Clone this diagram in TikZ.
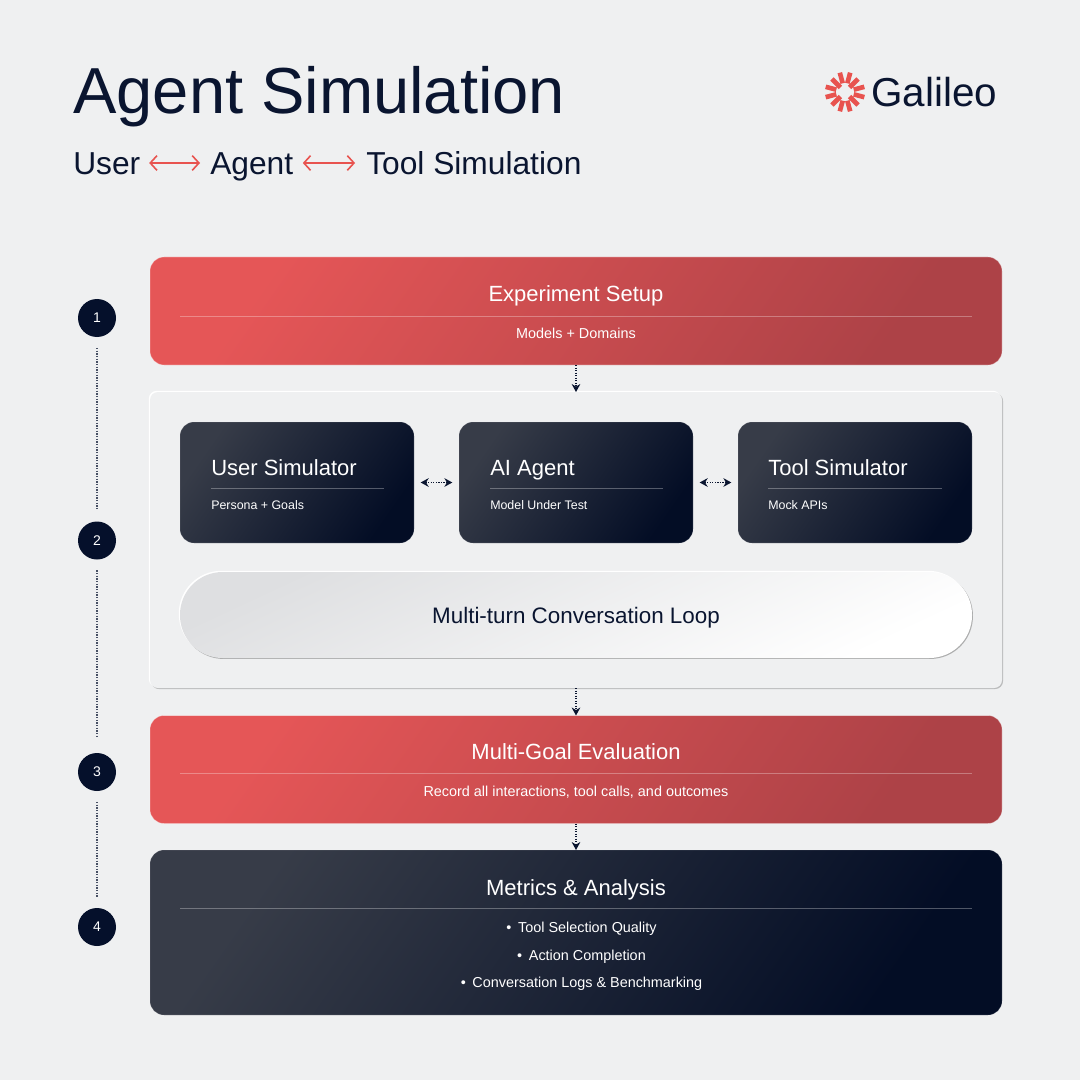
\documentclass[tikz,border=0pt]{standalone}
\usepackage{fontspec}
\setmainfont{Liberation Sans}
\usetikzlibrary{arrows.meta,shadows}
\definecolor{bgc}{HTML}{EFF0F1}
\definecolor{navy}{HTML}{0A1530}
\definecolor{coral}{HTML}{E8534F}
\definecolor{redA}{HTML}{E55657}
\definecolor{redB}{HTML}{AD4247}
\definecolor{darkA}{HTML}{373C48}
\definecolor{darkB}{HTML}{030D25}
\definecolor{circ}{HTML}{05102B}
\definecolor{pillA}{HTML}{DEDFE1}
\newcommand{\fs}[1]{\fontsize{#1}{#1}\selectfont}
\tikzset{
  px/.style 2 args={minimum width=#1*0.75pt,minimum height=#2*0.75pt,inner sep=0pt,outer sep=0pt},
  redbox/.style={rounded corners=10.5pt,left color=redA,right color=redB,shading angle=55,draw=white,draw opacity=.35,line width=.5pt},
  darkbox/.style={rounded corners=10.5pt,left color=darkA,right color=darkB,shading angle=55,draw=white,draw opacity=.15,line width=.5pt},
  panelbox/.style={rounded corners=6pt,fill=bgc,drop shadow={shadow xshift=.8pt,shadow yshift=-.8pt,fill=black,opacity=.22},drop shadow={shadow xshift=-.9pt,shadow yshift=.9pt,fill=white,opacity=1}},
  pillbox/.style={rounded corners=32pt,left color=pillA,right color=white,shading angle=25,drop shadow={shadow xshift=.7pt,shadow yshift=-.7pt,fill=black,opacity=.28},drop shadow={shadow xshift=-.9pt,shadow yshift=.9pt,fill=white,opacity=1}},
  stepnum/.style={circle,fill=circ,text=white,minimum size=28.5pt,inner sep=0pt,font=\fs{10.5}},
  boxtitle/.style={text=white,font=\fs{16.5},anchor=base,inner sep=0pt},
  boxsub/.style={text=white,font=\fs{10.8},anchor=base,inner sep=0pt},
  cardtitle/.style={text=white,font=\fs{16.5},anchor=base west,inner sep=0pt},
  cardsub/.style={text=white,font=\fs{9.3},anchor=base west,inner sep=0pt},
  rulewhite/.style={draw=white,draw opacity=.3,line width=.7pt},
  flow/.style={densely dotted,line width=.9pt,draw=navy,arrows={-Stealth[length=6pt,width=6.5pt]}},
  flowboth/.style={densely dotted,line width=.9pt,draw=navy,arrows={Stealth[length=6pt,width=6.5pt]-Stealth[length=6pt,width=6.5pt]}},
  timeline/.style={densely dotted,line width=1pt,draw=navy!75!white},
  barb/.style={draw=coral,line width=1.2pt,arrows={Straight Barb[length=5pt,width=11pt]-Straight Barb[length=5pt,width=11pt]}},
  headtext/.style={anchor=base west,inner sep=0pt,text=navy},
}
\begin{document}
\begin{tikzpicture}[x=0.75pt,y=-0.75pt]
\fill[bgc] (0,0) rectangle (1080,1080);
\useasboundingbox (0,0) rectangle (1080,1080);
% header
\node[headtext,font=\fs{48.8}] (title) at (73,114) {Agent Simulation};
\node[headtext,font=\fs{23.8}] (suser) at (73,174.5) {User};
\node[headtext,font=\fs{23.8}] (sagent) at (210,174.5) {Agent};
\node[headtext,font=\fs{23.8}] (stool) at (366,174.5) {Tool Simulation};
\coordinate (a1) at (suser.east |- 0,163);
\coordinate (a2) at (sagent.west |- 0,163);
\coordinate (a3) at (sagent.east |- 0,163);
\coordinate (a4) at (stool.west |- 0,163);
\draw[barb,shorten >=7.5pt,shorten <=6.5pt] (a1) -- (a2);
\draw[barb,shorten >=8.2pt,shorten <=7pt] (a3) -- (a4);
% logo
\foreach \a in {45,135,225,315}{
  \draw[coral,line width=3.5pt] (845,92) ++(\a:6.5) -- ++(\a:12);
}
\foreach \a in {15,75,105,165,195,255,285,345}{
  \draw[coral,line width=3.5pt] (845,92) ++(\a:9) -- ++(\a:11);
}
\node[headtext,font=\fs{30.3}] (logo) at (871,106.5) {Galileo};
% boxes
\node[px={852}{108},redbox] (setup) at (576,311) {};
\node[px={852}{296},panelbox] (panel) at (576,540) {};
\node[px={852}{108},redbox] (evalbox) at (576,769.5) {};
\node[px={852}{165},darkbox] (metrics) at (576,932.5) {};
\node[px={234}{121},darkbox] (usersim) at (297,482.5) {};
\node[px={234}{121},darkbox] (agent) at (576,482.5) {};
\node[px={234}{121},darkbox] (toolsim) at (855,482.5) {};
\node[px={792}{86},pillbox] (loop) at (576,615) {};
% box text
\node[boxtitle] (t1) at (576,301) {Experiment Setup};
\draw[rulewhite] (180,316) -- (972,316);
\node[boxsub] (s1) at (576,338) {Models + Domains};
\node[boxtitle] (t3) at (576,759) {Multi-Goal Evaluation};
\draw[rulewhite] (180,773.5) -- (972,773.5);
\node[boxsub] (s3) at (576,796) {Record all interactions, tool calls, and outcomes};
\node[boxtitle] (t4) at (576,895) {Metrics \& Analysis};
\draw[rulewhite] (180,908.5) -- (972,908.5);
\node[boxsub] (m1) at (581.5,932) {•\hspace{5pt}Tool Selection Quality};
\node[boxsub] (m2) at (581.5,960) {•\hspace{5pt}Action Completion};
\node[boxsub] (m3) at (581.5,987) {•\hspace{5pt}Conversation Logs \& Benchmarking};
% cards
\node[cardtitle] (ct1) at (211,475) {User Simulator};
\draw[rulewhite] (211,488.5) -- (384,488.5);
\node[cardsub] (cs1) at (211,509.5) {Persona + Goals};
\node[cardtitle] (ct2) at (490,475) {AI Agent};
\draw[rulewhite] (490,488.5) -- (663,488.5);
\node[cardsub] (cs2) at (490,509.5) {Model Under Test};
\node[cardtitle] (ct3) at (768,475) {Tool Simulator};
\draw[rulewhite] (768,488.5) -- (942,488.5);
\node[cardsub] (cs3) at (768,509.5) {Mock APIs};
\node[anchor=base,inner sep=0pt,text=navy,font=\fs{16.8}] (lt) at (576,623) {Multi-turn Conversation Loop};
% flow arrows
\draw[flow] (setup.south) -- (panel.north);
\draw[flow] (panel.south) -- (evalbox.north);
\draw[flow] (evalbox.south) -- (metrics.north);
\draw[flowboth,shorten >=5pt,shorten <=5pt] (usersim.east) -- (agent.west);
\draw[flowboth,shorten >=5pt,shorten <=5pt] (agent.east) -- (toolsim.west);
% steps
\node[stepnum] (n1) at (97,318) {1};
\node[stepnum] (n2) at (97,540.5) {2};
\node[stepnum] (n3) at (97,772) {3};
\node[stepnum] (n4) at (97,927) {4};
\draw[timeline,shorten >=8pt,shorten <=8pt] (n1) -- (n2);
\draw[timeline,shorten >=11pt,shorten <=8pt] (n2) -- (n3);
\draw[timeline,shorten >=8pt,shorten <=8pt] (n3) -- (n4);
\end{tikzpicture}
\end{document}
